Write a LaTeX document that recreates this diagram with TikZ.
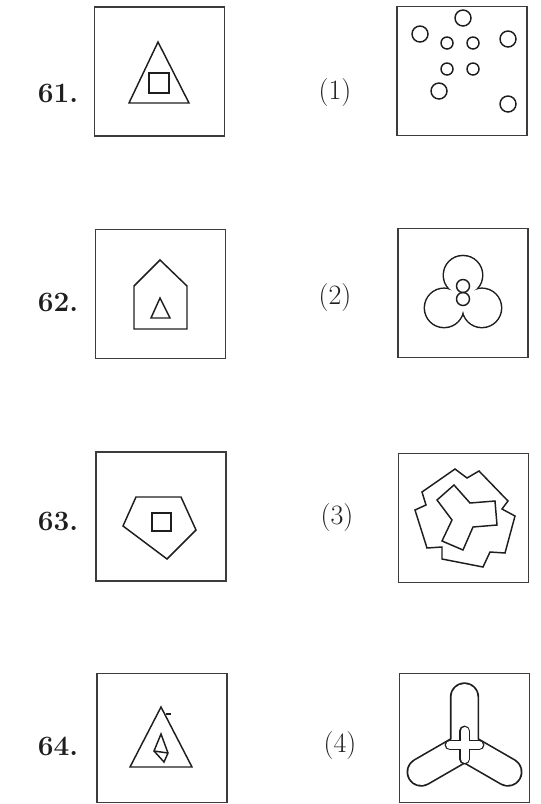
\documentclass[tikz,border=0pt]{standalone}
\usepackage{tikz}
\usetikzlibrary{positioning}
\definecolor{tinta}{RGB}{30,30,30}
\definecolor{marco}{RGB}{60,60,60}
\tikzset{
  pbox/.style={draw=marco,line width=0.8pt,minimum width=97.5pt,minimum height=96.75pt,inner sep=0pt},
  fig/.style={draw=tinta,line width=1.1pt,line join=miter},
  qnum/.style={font=\bfseries\fontsize{21}{25}\selectfont,text=tinta},
  onum/.style={font=\fontsize{21}{25}\selectfont,text=tinta}
}

\begin{document}
\begin{tikzpicture}[x=0.75pt,y=-0.75pt]
\useasboundingbox (0,0) rectangle (540,804);
% question figures and answer figures
\node[pbox] (q61) at (159.5,71.5) {};
\node[pbox] (a1)  at (462,71) {};
\node[pbox] (q62) at (160.5,294) {};
\node[pbox] (a2)  at (463,293) {};
\node[pbox] (q63) at (161,516.5) {};
\node[pbox] (a3)  at (463.5,518) {};
\node[pbox] (q64) at (162,738) {};
\node[pbox] (a4)  at (464.5,738) {};
\node[qnum] (l61) at (58,93) {61.};
\node[qnum] (l62) at (58,302) {62.};
\node[qnum] (l63) at (58,521) {63.};
\node[qnum] (l64) at (58,746) {64.};
\node[onum] (l1) at (335,93) {(1)};
\node[onum] (l2) at (335,298) {(2)};
\node[onum] (l3) at (337,518) {(3)};
\node[onum] (l4) at (340,746) {(4)};
% 61
\draw[fig] (158,42) -- (129,103) -- (189,103) -- cycle;
\draw[fig] (149,73) rectangle (169,93);
% (1)
\foreach \cx/\cy/\r in {463/18/8,420/34/8,447/43/6,473/43/6,508/39/8,447/69/6,473/69/6,439/91/8,508/104/8}
  \draw[fig] (\cx,\cy) circle[radius=\r];
% 62
\draw[fig] (134,329) -- (134,286) -- (160,260) -- (187,286) -- (187,329) -- cycle;
\draw[fig] (160,298) -- (151,318) -- (170,318) -- cycle;
% (2)
\foreach \cx/\cy in {463/275.2,444.1/307.9,481.9/307.9}
  \fill[tinta] (\cx,\cy) circle[radius=20.5];
\foreach \cx/\cy in {463/275.2,444.1/307.9,481.9/307.9}
  \fill[white] (\cx,\cy) circle[radius=19];
\fill[white] (463,297) circle[radius=12.5];
\draw[fig] (463,286) circle[radius=6.5];
\draw[fig] (463,299) circle[radius=6.5];
% 63
\draw[fig] (136,497) -- (181,497) -- (196,530) -- (167,559) -- (123,526) -- cycle;
\draw[fig] (152,513) rectangle (171,531);
% (3)
\draw[fig] (422,492) -- (455,469) -- (467,478) -- (479,471) -- (508,501) -- (502,509)
  -- (515,516) -- (505,553) -- (490,552) -- (483,567) -- (442,559) -- (442,547)
  -- (427,548) -- (415,510) -- (426,505) -- cycle;
\draw[fig] (437,500) -- (454,485) -- (470,503) -- (495,501) -- (497,525) -- (473,527)
  -- (463,550) -- (442,541) -- (452,520) -- cycle;
% 64
\draw[fig] (161,707) -- (130,767) -- (192,767) -- cycle;
\draw[fig,line width=0.8pt] (166,714) -- (171,714);
\draw[fig] (161,734) -- (154,751) -- (164,762) -- (168,753) -- cycle;
\draw[fig] (154,751) -- (168,753);
% (4)
\coordinate (o4) at (464.5,747);
\draw[tinta,line width=22pt,line cap=round] (o4) -- ++(0,-50) (o4) -- ++(-43.3,25) (o4) -- ++(43.3,25);
\draw[white,line width=19.5pt,line cap=round] (o4) -- ++(0,-50) (o4) -- ++(-43.3,25) (o4) -- ++(43.3,25);
\draw[tinta,line width=8.2pt,line cap=round] (464.5,731) -- (464.5,759) (450,745) -- (479,745);
\draw[white,line width=6pt,line cap=round] (464.5,731) -- (464.5,759) (450,745) -- (479,745);
\end{tikzpicture}
\end{document}
